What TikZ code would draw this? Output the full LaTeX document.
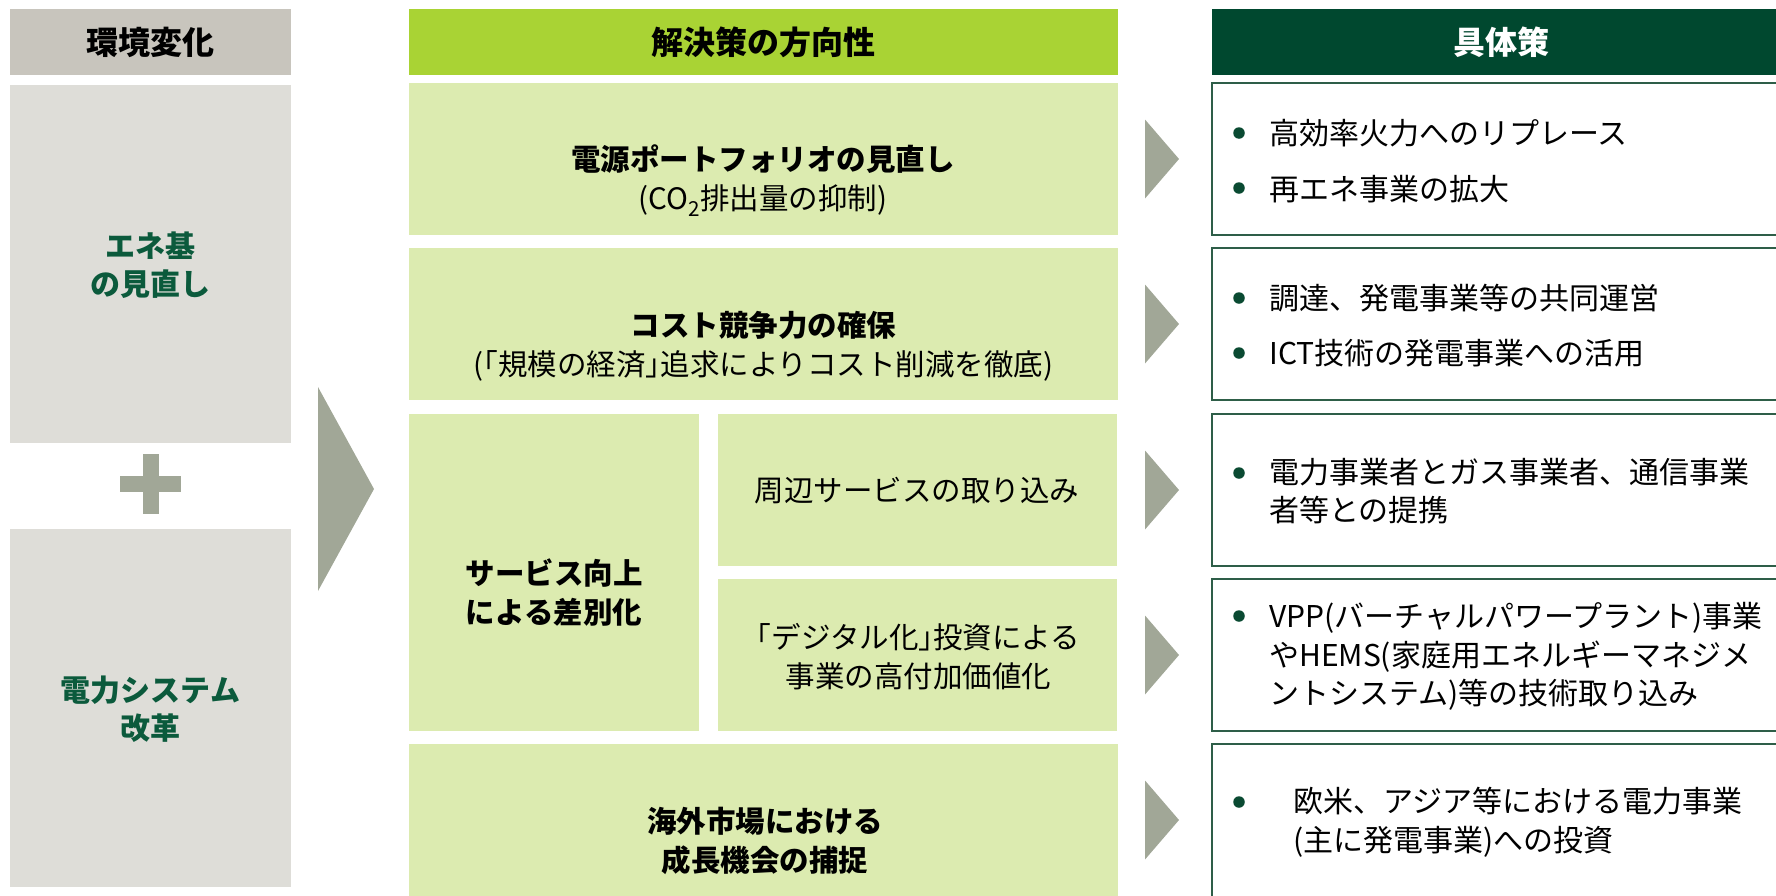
\documentclass[tikz,border=0pt]{standalone}
\usepackage{fontspec}
\setmainfont{Noto Sans CJK JP}
\usetikzlibrary{calc}
\definecolor{hdrgray}{HTML}{C8C5BD}
\definecolor{boxgray}{HTML}{DEDDD8}
\definecolor{hdrgreen}{HTML}{A9D334}
\definecolor{boxgreen}{HTML}{DCEBB0}
\definecolor{hdrdark}{HTML}{00482F}
\definecolor{arrgray}{HTML}{A1A797}
\definecolor{txtgreen}{HTML}{0B5A3C}
\definecolor{bordergreen}{HTML}{2E5E48}
\definecolor{bulletgreen}{HTML}{0A4A32}
\tikzset{
  panel/.style={inner sep=0pt,outer sep=0pt,draw=none},
  rbox/.style={inner sep=0pt,outer sep=0pt,draw=bordergreen,line width=1.3pt,fill=white,minimum width=578pt,minimum height=152pt},
  gbox/.style={panel,fill=boxgreen},
  midtxt/.style={inner sep=0pt,align=center,text=black,font=\fontsize{29.5}{39}\selectfont},
  lefttxt/.style={inner sep=0pt,align=center,text=txtgreen,font=\fontsize{30}{38}\selectfont\bfseries},
  rtxt/.style={inner sep=0pt,anchor=west,align=left,text=black,font=\fontsize{30}{38.5}\selectfont},
  bul/.style={circle,fill=bulletgreen,inner sep=0pt,minimum size=11.5pt},
  arr/.style={fill=arrgray}
}
\begin{document}
\begin{tikzpicture}[x=1pt,y=-1pt]
\useasboundingbox (0,0) rectangle (1776,895);
\clip (0,0) rectangle (1776,895);
% ---------- left column ----------
\node[panel,fill=hdrgray,minimum width=281pt,minimum height=66pt,font=\fontsize{32}{36}\selectfont\bfseries] (envh) at (150.5,42) {環境変化};
\node[panel,fill=boxgray,minimum width=281pt,minimum height=358pt] (ene) at (150.5,264) {};
\node[panel,fill=boxgray,minimum width=281pt,minimum height=358pt] (sys) at (150.5,708) {};
\node[lefttxt] (enet) at (150.5,265) {エネ基\\の見直し};
\node[lefttxt] (syst) at (150.5,709) {電力システム\\改革};
\node[panel,fill=arrgray,minimum width=61pt,minimum height=16pt] (plush) at (150.5,484) {};
\node[panel,fill=arrgray,minimum width=16pt,minimum height=60pt] (plusv) at (150.5,484) {};
% big arrow
\coordinate (bigtip) at (374,489);
\fill[arr] ($(bigtip)+(-56,-102)$) -- (bigtip) -- ($(bigtip)+(-56,102)$) -- cycle;
% ---------- middle column ----------
\node[panel,fill=hdrgreen,minimum width=709pt,minimum height=66pt,font=\fontsize{32}{36}\selectfont\bfseries] (solh) at (763.5,42) {解決策の方向性};
\node[gbox,minimum width=709pt,minimum height=152pt] (m1) at (763.5,159) {};
\node[gbox,minimum width=709pt,minimum height=152pt] (m2) at (763.5,324) {};
\node[gbox,minimum width=290pt,minimum height=317pt] (m3) at (554,572.5) {};
\node[gbox,minimum width=399pt,minimum height=152pt] (m3a) at (917.5,490) {};
\node[gbox,minimum width=399pt,minimum height=152pt] (m3b) at (917.5,655) {};
\node[gbox,minimum width=709pt,minimum height=152pt] (m4) at (763.5,820) {};
\node[midtxt] (m1t) at (763,180.5) {\textbf{電源ポートフォリオの見直し}\\(CO\textsubscript{2}排出量の抑制)};
\node[midtxt] (m2t) at (763.5,346) {\textbf{コスト競争力の確保}\\(｢規模の経済｣追求によりコスト削減を徹底)};
\node[midtxt,font=\fontsize{29.5}{39}\selectfont\bfseries] (m3t) at (554,592.5) {サービス向上\\による差別化};
\node[midtxt] (m3at) at (917,491) {周辺サービスの取り込み};
\node[midtxt] (m3bt) at (918.5,656.5) {｢デジタル化｣投資による\\事業の高付加価値化};
\node[midtxt,font=\fontsize{29.5}{39}\selectfont\bfseries] (m4t) at (765,840.5) {海外市場における\\成長機会の捕捉};
% ---------- right column ----------
\node[panel,fill=hdrdark,minimum width=578pt,minimum height=66pt,text=white,font=\fontsize{32}{36}\selectfont\bfseries] (meah) at (1501,42) {具体策};
\node[rbox] (r1) at (1501,159) {};
\node[rbox] (r2) at (1501,324) {};
\node[rbox] (r3) at (1501,490) {};
\node[rbox] (r4) at (1501,655) {};
\node[rbox,minimum height=154pt] (r5) at (1501,821) {};
% bullets and texts
\node[bul] (b11) at (1239,133) {};
\node[bul] (b12) at (1239,188) {};
\node[rtxt] (t11) at (1269,133) {高効率火力へのリプレース};
\node[rtxt] (t12) at (1269,189) {再エネ事業の拡大};
\node[bul] (b21) at (1239,298) {};
\node[bul] (b22) at (1239,353) {};
\node[rtxt] (t21) at (1269,298) {調達、発電事業等の共同運営};
\node[rtxt] (t22) at (1269,353) {ICT技術の発電事業への活用};
\node[bul] (b3) at (1239,473) {};
\node[rtxt] (t3) at (1269,491) {電力事業者とガス事業者、通信事業\\者等との提携};
\node[bul] (b4) at (1239,616) {};
\node[rtxt] (t4) at (1269,656.5) {VPP(バーチャルパワープラント)事業\\やHEMS(家庭用エネルギーマネジメ\\ントシステム)等の技術取り込み};
\node[bul] (b5) at (1239,802) {};
\node[rtxt] (t5) at (1293,822) {欧米、アジア等における電力事業\\(主に発電事業)への投資};
% small arrows between columns
\foreach \r in {r1,r2,r3,r4}{
  \fill[arr] ($(\r.west)+(-67,-39.5)$) -- ($(\r.west)+(-33,0)$) -- ($(\r.west)+(-67,39.5)$) -- cycle;
}
\coordinate (r5mid) at (r5.west |- m4.center);
\fill[arr] ($(r5mid)+(-67,-39.5)$) -- ($(r5mid)+(-33,0)$) -- ($(r5mid)+(-67,39.5)$) -- cycle;
\end{tikzpicture}
\end{document}
